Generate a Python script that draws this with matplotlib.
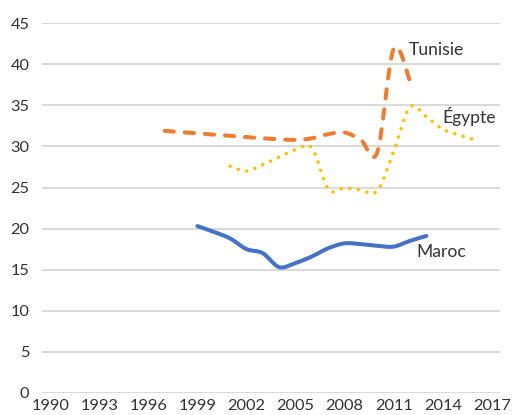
import numpy as np
import matplotlib
matplotlib.use('Agg')
import matplotlib.pyplot as plt
from matplotlib.path import Path
from matplotlib.patches import PathPatch

plt.rcParams['font.family'] = ['Lato', 'DejaVu Sans']

# data
years_tunisie = [1997, 1999, 2001, 2003, 2005, 2006, 2007, 2008, 2009, 2010, 2011, 2012]
tunisie = [31.9, 31.6, 31.3, 31.0, 30.8, 31.0, 31.5, 31.7, 30.8, 29.3, 41.9, 38.0]

years_egypte = list(range(2001, 2017))
egypte = [27.6, 27.0, 27.8, 28.7, 29.6, 29.8, 24.8, 24.9, 24.7, 24.6,
          29.4, 34.8, 33.6, 32.1, 31.4, 30.8]

years_maroc = list(range(1999, 2014))
maroc = [20.3, 19.6, 18.8, 17.5, 17.0, 15.3, 15.8, 16.6, 17.6, 18.2,
         18.1, 17.9, 17.8, 18.5, 19.1]

x_ticks = list(range(1990, 2018, 3))
y_ticks = list(range(0, 50, 5))

text_color = '#333333'
fs = 12.6
tick_fs = 11.8


def smooth_path(xs, ys):
    # excel-like smoothed line: bezier segments with catmull-rom handles
    pts = np.column_stack([xs, ys]).astype(float)
    n = len(pts)
    verts = [pts[0]]
    codes = [Path.MOVETO]
    for i in range(n - 1):
        p0 = pts[max(i - 1, 0)]
        p1 = pts[i]
        p2 = pts[i + 1]
        p3 = pts[min(i + 2, n - 1)]
        verts += [p1 + (p2 - p0) / 6, p2 - (p3 - p1) / 6, p2]
        codes += [Path.CURVE4] * 3
    return Path(verts, codes)


fig = plt.figure(figsize=(5.21, 4.15), dpi=100)
ax = fig.add_axes([0.0806, 0.0537, 0.879, 0.890])

series = [
    (years_tunisie, tunisie, '#ED7D31', 2.9, (0, (2.3, 2.7))),
    (years_egypte, egypte, '#FFC000', 2.6, (0, (0.01, 2.4))),
    (years_maroc, maroc, '#4472C4', 2.9, 'solid'),
]
for xs, ys, col, lw, ls in series:
    patch = PathPatch(smooth_path(xs, ys), fill=False, edgecolor=col,
                      linewidth=lw, linestyle=ls, capstyle='round',
                      joinstyle='round', zorder=3)
    ax.add_patch(patch)

ax.text(2011.95, 41.7, 'Tunisie', fontsize=fs, color=text_color, va='center', ha='left')
ax.text(2013.95, 33.7, 'Égypte', fontsize=fs, color=text_color, va='center', ha='left')
ax.text(2012.4, 17.1, 'Maroc', fontsize=fs, color=text_color, va='center', ha='left')

ax.set_xlim(1989.5, 2017.5)
ax.set_ylim(0, 45)
ax.set_xticks(x_ticks)
ax.set_yticks(y_ticks)
ax.tick_params(axis='both', length=0, labelsize=tick_fs, labelcolor=text_color)
ax.tick_params(axis='y', pad=9)
ax.tick_params(axis='x', pad=4.5)

ax.grid(True, axis='y', color='#D9D9D9', linewidth=1.4)
ax.set_axisbelow(True)
for s in ax.spines.values():
    s.set_visible(False)

fig.savefig('out.png', dpi=100)
